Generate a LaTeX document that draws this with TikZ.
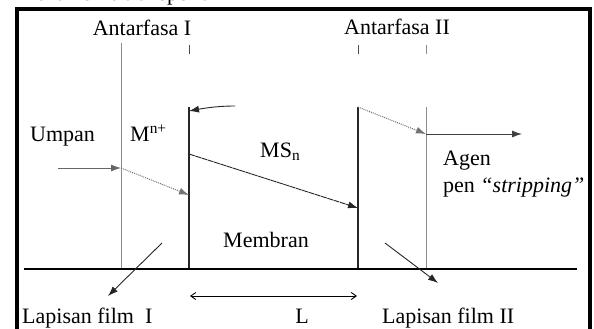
\documentclass[tikz,border=0pt]{standalone}
\usepackage{fontspec}
\setmainfont{Liberation Serif}
\usetikzlibrary{arrows.meta}
\begin{document}
\begin{tikzpicture}[x=1pt,y=-1pt,font=\fontsize{22}{26}\selectfont,
  lbl/.style={inner sep=0pt,anchor=base west},
  clbl/.style={inner sep=0pt,anchor=base},
  tip/.style={-{Latex[length=10pt,width=7pt]}},
  grayline/.style={draw=black!45,line width=0.9pt},
  darkline/.style={draw=black!85,line width=1.2pt},
  dotarrow/.style={tip,draw=black!55,densely dotted,line width=1pt},
  solidarrow/.style={tip,draw=black!85,line width=0.9pt},
  tick/.style={draw=black!70,line width=1pt}]
\useasboundingbox (0,0) rectangle (594,329);
% frame
\draw[line width=3.5pt] (17,345) -- (17,9) -- (590,9) -- (590,345);
% title (clipped)
\node[lbl] (title) at (16,1) {Mekanisme transpor :};
% labels
\node[clbl] (af1) at (142,36) {Antarfasa I};
\node[clbl] (af2) at (397,35) {Antarfasa II};
\node[lbl] (umpan) at (30,141) {Umpan};
\node[lbl] (mn) at (130,141) {M\textsuperscript{n+}};
\node[lbl] (msn) at (260,157) {MS\textsubscript{n}};
\node[lbl] (agen) at (443,165) {Agen};
\node[lbl] (pen) at (443,192) {pen \textit{``stripping''}};
\node[clbl] (membran) at (266,247) {Membran};
\node[clbl] (L) at (302,323) {L};
\node[lbl] (lf1) at (22,323) {Lapisan film\ \ I};
\node[lbl] (lf2) at (382,323) {Lapisan film II};
% coordinates
\coordinate (a1) at (121,43); \coordinate (a2) at (121,269);
\coordinate (b1) at (189,107); \coordinate (b2) at (189,269);
\coordinate (c1) at (358,107); \coordinate (c2) at (358,269);
\coordinate (d1) at (426,107); \coordinate (d2) at (426,269);
\coordinate (t1a) at (189,45); \coordinate (t1b) at (189,54);
\coordinate (t2a) at (358,45); \coordinate (t2b) at (358,54);
\coordinate (t3a) at (426,45); \coordinate (t3b) at (426,54);
\coordinate (base1) at (24,269); \coordinate (base2) at (577,269);
\coordinate (u0) at (58,168); \coordinate (u1) at (121,168);
\coordinate (m1) at (189,195);
\coordinate (top0) at (235,106); \coordinate (top1) at (189,111);
\coordinate (s0) at (189,154); \coordinate (s1) at (358,208);
\coordinate (e1) at (426,134); \coordinate (e2) at (522,134);
\coordinate (p0) at (162,243); \coordinate (p1) at (108,296);
\coordinate (q0) at (385,243); \coordinate (q1) at (438,283);
\coordinate (L0) at (190,296); \coordinate (L1) at (357,296);
% vertical lines
\draw[grayline] (a1) -- (a2);
\draw[darkline] (b1) -- (b2);
\draw[darkline] (c1) -- (c2);
\draw[grayline] (d1) -- (d2);
\draw[tick] (t1a) -- (t1b);
\draw[tick] (t2a) -- (t2b);
\draw[grayline] (t3a) -- (t3b);
% base line
\draw[line width=1.2pt] (base1) -- (base2);
% arrows
\draw[tip,draw=black!60,line width=0.9pt] (u0) -- (u1);
\draw[dotarrow] (u1) -- (m1);
\draw[solidarrow] (top0) .. controls (215,106) and (200,109) .. (top1);
\draw[solidarrow,dash pattern=on 6pt off 0.6pt] (s0) -- (s1);
\draw[dotarrow] (c1) -- (e1);
\draw[tip,draw=black!75,line width=0.9pt] (e1) -- (e2);
\draw[solidarrow] (p0) -- (p1);
\draw[solidarrow] (q0) -- (q1);
\draw[{Straight Barb[length=5pt,width=7pt]}-{Straight Barb[length=5pt,width=7pt]},line width=0.9pt] (L0) -- (L1);
\end{tikzpicture}
\end{document}
